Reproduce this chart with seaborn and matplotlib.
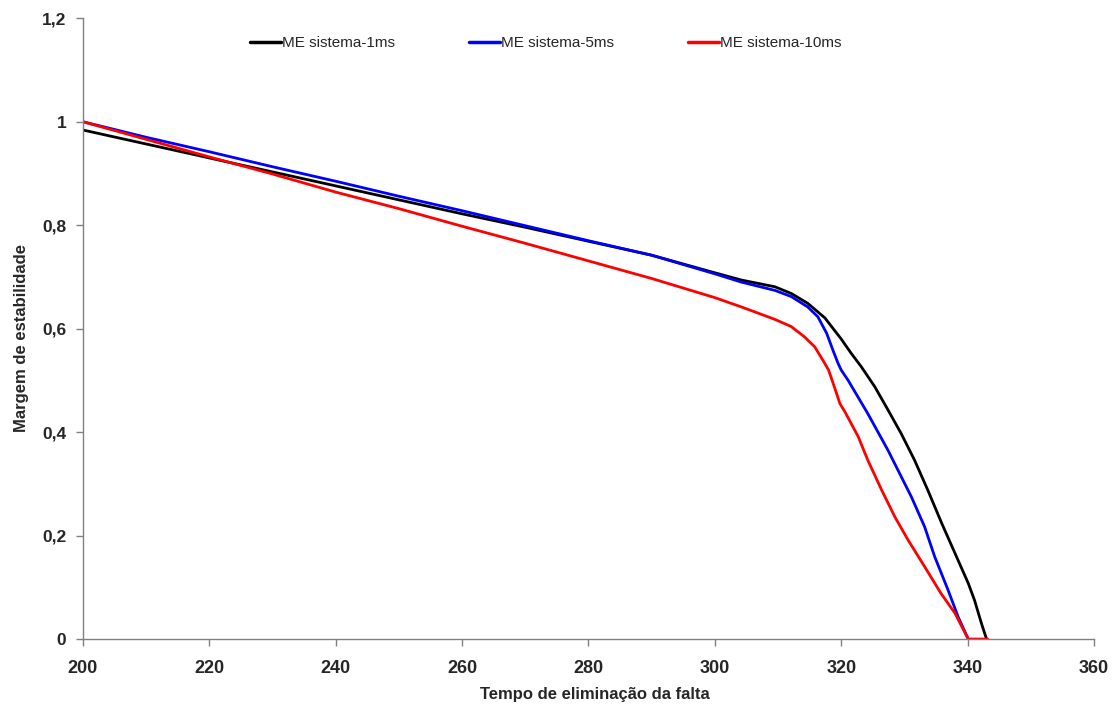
import numpy as np
import pandas as pd
import matplotlib
matplotlib.use("Agg")
import matplotlib.pyplot as plt
from matplotlib.ticker import FuncFormatter, MultipleLocator
import seaborn as sns

# Fault clearing time (ms) and stability margin for each simulation step
t_1ms = [200, 210, 220, 230, 240, 250, 260, 270, 280, 290, 300, 304.2, 309.5,
         312.1, 314.7, 317.4, 320.0, 321.6, 323.2, 325.3, 327.4, 329.5, 331.6,
         333.7, 335.9, 338.0, 340.1, 341.1, 342.2, 343.0]
me_1ms = [0.984, 0.957, 0.930, 0.903, 0.876, 0.849, 0.822, 0.796, 0.769, 0.742,
          0.708, 0.694, 0.681, 0.668, 0.649, 0.621, 0.580, 0.552, 0.526, 0.488,
          0.443, 0.397, 0.346, 0.288, 0.224, 0.166, 0.108, 0.075, 0.030, 0.0]

t_5ms = [200, 210, 220, 230, 240, 250, 260, 270, 280, 290, 300, 304.2, 309.5,
         312.1, 314.7, 316.3, 317.7, 318.7, 319.5, 320.0, 321.1, 324.2, 327.4,
         331.1, 333.2, 334.8, 336.9, 338.5, 340.1]
me_5ms = [1.0, 0.970, 0.942, 0.913, 0.885, 0.856, 0.828, 0.799, 0.770, 0.742,
          0.706, 0.690, 0.674, 0.662, 0.642, 0.623, 0.591, 0.558, 0.533, 0.520,
          0.500, 0.436, 0.365, 0.275, 0.217, 0.159, 0.095, 0.043, 0.0]

t_10ms = [200, 210, 220, 230, 240, 250, 260, 270, 280, 290, 300, 304.2, 309.5,
          312.1, 314.2, 315.8, 317.1, 318.0, 318.9, 319.8, 320.6, 321.3, 322.7,
          324.2, 326.4, 328.5, 330.6, 333.2, 335.8, 338.0, 340.1, 341.5, 343.2]
me_10ms = [1.0, 0.966, 0.932, 0.899, 0.864, 0.832, 0.798, 0.765, 0.731, 0.697,
           0.660, 0.642, 0.618, 0.604, 0.584, 0.565, 0.539, 0.520, 0.488, 0.455,
           0.439, 0.423, 0.391, 0.346, 0.288, 0.236, 0.191, 0.140, 0.088, 0.050,
           0.0, 0.0, 0.0]

series_names = ["ME sistema-1ms", "ME sistema-5ms", "ME sistema-10ms"]
series_colors = ["#000000", "#0000FF", "#FF0000"]

frames = []
for name, t, m in zip(series_names, [t_1ms, t_5ms, t_10ms], [me_1ms, me_5ms, me_10ms]):
    frames.append(pd.DataFrame({"tempo": t, "margem": m, "serie": name}))
df = pd.concat(frames, ignore_index=True)

sns.set_style("ticks")
plt.rcParams["font.family"] = ["Liberation Sans", "DejaVu Sans"]

fig = plt.figure(figsize=(11.14, 7.04), dpi=100)
ax = fig.add_axes([0.0745, 0.0923, 0.9075, 0.8817])

sns.lineplot(data=df, x="tempo", y="margem", hue="serie", hue_order=series_names,
             palette=series_colors, sort=False, estimator=None, linewidth=2.0, ax=ax)
for line in ax.get_lines():
    line.set_solid_joinstyle("round")

ax.set_xlim(200, 360)
ax.set_ylim(0, 1.2)
ax.xaxis.set_major_locator(MultipleLocator(20))
ax.yaxis.set_major_locator(MultipleLocator(0.2))
ax.yaxis.set_major_formatter(FuncFormatter(lambda v, p: f"{v:g}".replace(".", ",")))

for side in ["top", "right"]:
    ax.spines[side].set_visible(False)
for side in ["left", "bottom"]:
    ax.spines[side].set_color("#808080")
    ax.spines[side].set_linewidth(1.0)
ax.tick_params(axis="both", direction="out", length=5, width=1.0, color="#808080")
ax.tick_params(axis="x", labelsize=13, pad=10)
ax.tick_params(axis="y", labelsize=12.5, pad=7)
for lbl in ax.get_xticklabels() + ax.get_yticklabels():
    lbl.set_fontweight("bold")

ax.set_xlabel("Tempo de eliminação da falta", fontsize=12, fontweight="bold")
ax.set_ylabel("Margem de estabilidade", fontsize=12, fontweight="bold")
ax.xaxis.set_label_coords(0.506, -0.078)
ax.yaxis.set_label_coords(-0.053, 0.485)

for lg_line in ax.legend(loc="upper left", bbox_to_anchor=(0.1516, 0.993), ncol=3,
                         frameon=False, fontsize=11, handlelength=2.0,
                         handletextpad=0.1, columnspacing=4.84).get_lines():
    lg_line.set_linewidth(2.5)

fig.savefig("out.png", dpi=100)
